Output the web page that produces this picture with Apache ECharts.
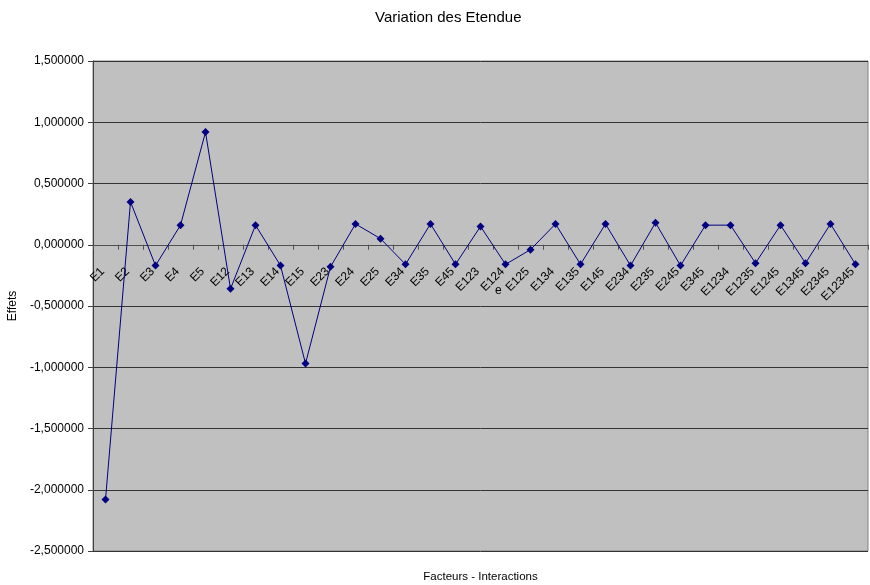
<!DOCTYPE html>
<html>
<head>
<meta charset="utf-8">
<script src="https://cdn.jsdelivr.net/npm/echarts@6/dist/echarts.min.js"></script>
<style>
  html, body { margin: 0; padding: 0; background: #fff; }
  #chart { width: 870px; height: 585px; }
</style>
</head>
<body>
<div id="chart"></div>
<script>
// Factors and interactions along the horizontal axis
const categories = ['E1', 'E2', 'E3', 'E4', 'E5', 'E12', 'E13', 'E14', 'E15', 'E23', 'E24', 'E25',
  'E34', 'E35', 'E45', 'E123', 'E124', 'E125', 'E134', 'E135', 'E145', 'E234', 'E235', 'E245',
  'E345', 'E1234', 'E1235', 'E1245', 'E1345', 'E2345', 'E12345'];

// Estimated effect of each factor / interaction
const effets = [-2.08, 0.35, -0.17, 0.16, 0.92, -0.36, 0.16, -0.17, -0.97, -0.18, 0.17, 0.05,
  -0.16, 0.17, -0.16, 0.15, -0.16, -0.04, 0.17, -0.16, 0.17, -0.17, 0.18, -0.17,
  0.16, 0.16, -0.15, 0.16, -0.15, 0.17, -0.16];

// Value axis range and step
const yMin = -2.5;
const yMax = 1.5;
const yStep = 0.5;

const FONT = 'Liberation Sans, Arial, sans-serif';

// Plot box
const W = 870, H = 585;
const GRID = { left: 93, right: 2, top: 61, bottom: 34 };
const plotH = H - GRID.top - GRID.bottom;
// Lift the category axis from the bottom edge up to the value 0
const zeroLift = plotH * (0 - yMin) / (yMax - yMin);

const chart = echarts.init(document.getElementById('chart'), null, { renderer: 'canvas' });

chart.setOption({
  animation: false,
  backgroundColor: '#ffffff',
  title: {
    text: 'Variation des Etendue',
    left: 370,
    top: 5,
    textStyle: { fontFamily: FONT, fontSize: 15, fontWeight: 'normal', color: '#000' }
  },
  grid: {
    left: GRID.left, right: GRID.right, top: GRID.top, bottom: GRID.bottom,
    outerBoundsMode: 'none',
    containLabel: false,
    show: true,
    backgroundColor: '#c0c0c0',
    borderColor: '#808080',
    borderWidth: 1
  },
  xAxis: {
    type: 'category',
    data: categories,
    boundaryGap: true,
    position: 'bottom',
    offset: -zeroLift,
    name: 'Facteurs - Interactions',
    nameLocation: 'middle',
    nameGap: 326,
    nameTextStyle: { fontFamily: FONT, fontSize: 11.5, color: '#000' },
    axisLine: { onZero: false, lineStyle: { color: '#505050', width: 1 } },
    axisTick: { show: true, alignWithLabel: false, length: 5, inside: false, lineStyle: { color: '#505050' } },
    axisLabel: {
      rotate: 45,
      margin: 22,
      interval: 0,
      padding: [0, 4, 0, 0],
      fontFamily: FONT,
      fontSize: 12,
      color: '#000'
    },
    splitLine: { show: false }
  },
  yAxis: {
    type: 'value',
    min: yMin,
    max: yMax,
    interval: yStep,
    name: 'Effets',
    nameLocation: 'middle',
    nameGap: 69,
    nameRotate: 90,
    nameTextStyle: { fontFamily: FONT, fontSize: 12, color: '#000' },
    axisLine: { show: true, lineStyle: { color: '#404040', width: 1 } },
    axisTick: { show: true, length: 5, lineStyle: { color: '#404040' } },
    axisLabel: {
      margin: 9,
      fontFamily: FONT,
      fontSize: 12,
      color: '#000',
      formatter: v => v.toFixed(6).replace('.', ',')
    },
    splitLine: { show: true, lineStyle: { color: '#333333', width: 1 } }
  },
  graphic: [
    {
      type: 'text',
      left: 495,
      top: 285,
      style: { text: 'e', font: '12px ' + FONT, fill: '#000' }
    }
  ],
  series: [
    {
      type: 'line',
      data: effets,
      symbol: 'diamond',
      symbolSize: 8,
      lineStyle: { color: '#000080', width: 1 },
      itemStyle: { color: '#000080' },
      z: 5
    }
  ]
});
</script>
</body>
</html>
